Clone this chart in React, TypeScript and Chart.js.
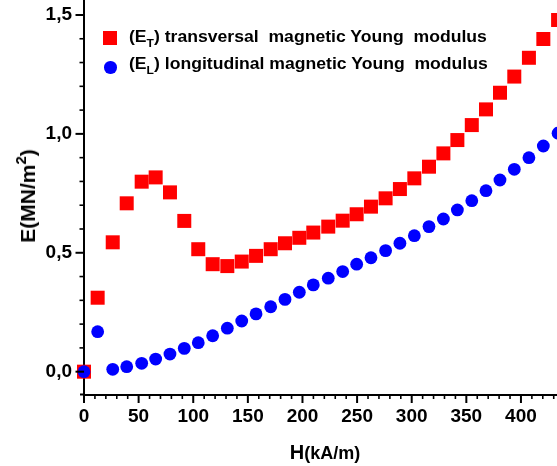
import React, { useEffect, useRef } from "react";
import { Chart, registerables } from "chart.js";

Chart.register(...registerables);

const hValues = [0, 12.5, 26.3, 39.1, 52.8, 65.6, 78.7, 91.8, 104.6, 117.8, 131.2, 144.4, 157.5, 170.9, 184, 197.1, 209.9, 223.6, 236.8, 249.6, 262.7, 276.1, 289.2, 302.4, 315.8, 329, 341.8, 355, 368, 380.8, 393.9, 407.3, 420.5, 434];
const transversal = [0, 0.311, 0.544, 0.708, 0.799, 0.817, 0.754, 0.634, 0.515, 0.452, 0.444, 0.463, 0.487, 0.515, 0.54, 0.563, 0.585, 0.61, 0.635, 0.662, 0.694, 0.729, 0.768, 0.813, 0.862, 0.918, 0.974, 1.037, 1.103, 1.173, 1.241, 1.32, 1.399, 1.479];
const longitudinal = [0, 0.168, 0.01, 0.021, 0.035, 0.053, 0.074, 0.098, 0.122, 0.151, 0.183, 0.213, 0.243, 0.273, 0.304, 0.334, 0.365, 0.393, 0.421, 0.452, 0.479, 0.509, 0.54, 0.572, 0.61, 0.642, 0.68, 0.719, 0.761, 0.806, 0.851, 0.9, 0.949, 1.003];

const X_MIN = 0;
const X_MAX = 433;
const Y_MIN = -0.096;
const Y_MAX = 1.563;
const FONT = "'Liberation Sans', Arial, sans-serif";

const minorTicks = {
  id: "minorTicks",
  afterDraw(chart: any) {
    const ctx = chart.ctx;
    const xs = chart.scales.x;
    const ys = chart.scales.y;
    const area = chart.chartArea;
    ctx.save();
    ctx.strokeStyle = "#000";
    for (let i = 0; i * 10 <= X_MAX; i++) {
      const v = i * 10;
      const px = xs.getPixelForValue(v);
      const major = i % 5 === 0;
      ctx.lineWidth = major ? 2 : 1.6;
      ctx.beginPath();
      ctx.moveTo(px, area.bottom);
      ctx.lineTo(px, area.bottom + (major ? 8.5 : 4.5));
      ctx.stroke();
    }
    for (let i = -1; i * 0.1 <= Y_MAX; i++) {
      const v = i * 0.1;
      if (v < Y_MIN) continue;
      const py = ys.getPixelForValue(v);
      const major = i % 5 === 0;
      ctx.lineWidth = major ? 2 : 1.6;
      ctx.beginPath();
      ctx.moveTo(area.left, py);
      ctx.lineTo(area.left - (major ? 8.5 : 4.5), py);
      ctx.stroke();
    }
    ctx.lineWidth = 2;
    ctx.beginPath();
    ctx.moveTo(area.left - 4, area.bottom);
    ctx.lineTo(area.left, area.bottom);
    ctx.stroke();
    ctx.restore();
  },
};

export default function App() {
  const ref = useRef<HTMLCanvasElement | null>(null);

  useEffect(() => {
    if (!ref.current) return;
    const chart = new Chart(ref.current, {
      type: "scatter",
      data: {
        datasets: [
          {
            label: "(EL) longitudinal magnetic Young modulus",
            data: hValues.map((h, i) => ({ x: h, y: longitudinal[i] })),
            pointStyle: "circle",
            pointRadius: 6.4,
            backgroundColor: "#0000ff",
            borderColor: "#0000ff",
            borderWidth: 0,
            clip: false as any,
            order: 0,
          },
          {
            label: "(ET) transversal magnetic Young modulus",
            data: hValues.map((h, i) => ({ x: h, y: transversal[i] })),
            pointStyle: "rect",
            pointRadius: 9.9,
            backgroundColor: "#ff0000",
            borderColor: "#ff0000",
            borderWidth: 0,
            clip: false as any,
            order: 1,
          },
        ],
      },
      options: {
        animation: false,
        responsive: false,
        layout: { padding: 0, autoPadding: false },
        plugins: {
          legend: { display: false },
          tooltip: { enabled: false },
        },
        scales: {
          x: {
            type: "linear",
            min: X_MIN,
            max: X_MAX,
            grid: { display: false, drawTicks: false },
            border: { display: true, color: "#000", width: 2 },
            ticks: {
              stepSize: 50,
              includeBounds: false,
              autoSkip: false,
              maxRotation: 0,
              padding: 11,
              color: "#000",
              font: { family: FONT, size: 19, weight: "bold" },
              callback: (v: any) => String(v),
            },
            afterFit: (s: any) => {
              s.height = 71.5;
              s.paddingLeft = 0;
              s.paddingRight = 0;
            },
          },
          y: {
            type: "linear",
            min: Y_MIN,
            max: Y_MAX,
            grid: { display: false, drawTicks: false },
            border: { display: true, color: "#000", width: 2 },
            ticks: {
              stepSize: 0.5,
              includeBounds: false,
              autoSkip: false,
              padding: 12,
              color: "#000",
              font: { family: FONT, size: 19, weight: "bold" },
              callback: (v: any) => Number(v).toFixed(1).replace(".", ","),
            },
            afterFit: (s: any) => {
              s.width = 84;
              s.paddingTop = 0;
              s.paddingBottom = 0;
            },
          },
        },
      },
      plugins: [minorTicks],
    });
    return () => chart.destroy();
  }, []);

  const legendText: React.CSSProperties = {
    position: "absolute",
    left: 129,
    fontFamily: FONT,
    fontWeight: "bold",
    fontSize: 16,
    lineHeight: "19px",
    whiteSpace: "pre",
    color: "#000",
    transform: "scaleX(1.1)",
    transformOrigin: "0 0",
  };
  const sub: React.CSSProperties = { fontSize: 11, position: "relative", top: 5 };

  return (
    <div style={{ position: "absolute", left: 0, top: 0, width: 557, height: 466, background: "#fff", overflow: "hidden" }}>
      <canvas ref={ref} width={557} height={466} style={{ width: 557, height: 466, display: "block" }} />
      <div style={{ position: "absolute", left: 103, top: 31, width: 14, height: 14, background: "#ff0000" }} />
      <div style={{ position: "absolute", left: 104, top: 61, width: 12.5, height: 12.5, borderRadius: "50%", background: "#0000ff" }} />
      <div style={{ ...legendText, top: 27 }}>
        (E<span style={sub}>T</span>) transversal  magnetic Young  modulus
      </div>
      <div style={{ ...legendText, top: 54.3 }}>
        (E<span style={sub}>L</span>) longitudinal magnetic Young  modulus
      </div>
      <div
        style={{
          position: "absolute",
          left: 29,
          top: 196,
          transform: "translate(-50%, -50%) rotate(-90deg)",
          fontFamily: FONT,
          fontWeight: "bold",
          fontSize: 21,
          whiteSpace: "nowrap",
          color: "#000",
          lineHeight: "24px",
        }}
      >
        E(MN/m<span style={{ fontSize: 15, position: "relative", top: -9 }}>2</span>)
      </div>
      <div
        style={{
          position: "absolute",
          left: 325,
          top: 452,
          transform: "translate(-50%, -50%)",
          fontFamily: FONT,
          fontWeight: "bold",
          fontSize: 20,
          whiteSpace: "nowrap",
          color: "#000",
        }}
      >
        H<span style={{ fontSize: 18 }}>(kA/m)</span>
      </div>
    </div>
  );
}
